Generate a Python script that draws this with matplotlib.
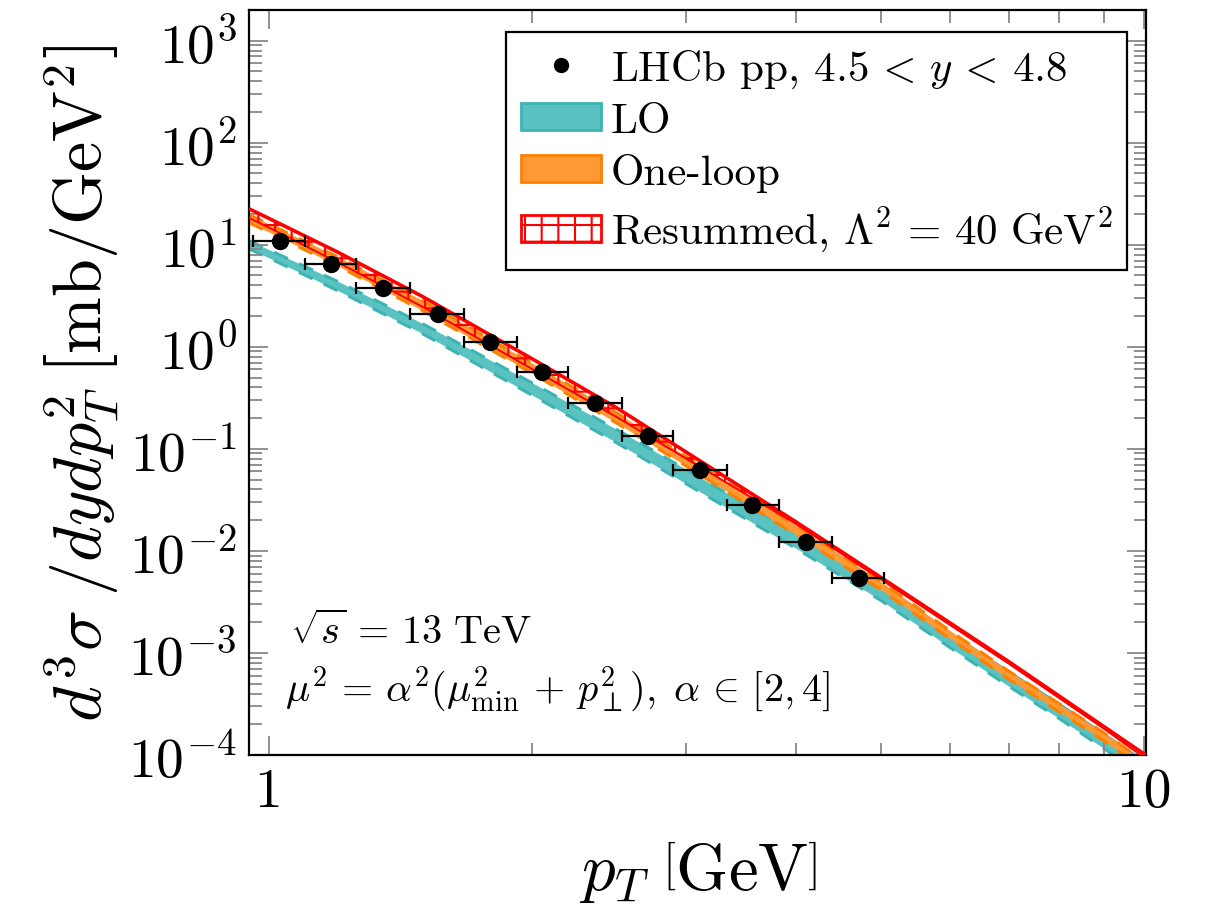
import matplotlib
matplotlib.use('Agg')
import matplotlib.pyplot as plt
from matplotlib.patches import Patch
from matplotlib.lines import Line2D
from matplotlib.ticker import FixedLocator, FixedFormatter, LogLocator, NullFormatter

plt.rcParams.update({
    'font.family': 'serif',
    'font.serif': ['cmr10'],
    'mathtext.fontset': 'cm',
    'axes.formatter.use_mathtext': True,
    'axes.unicode_minus': False,
    'hatch.linewidth': 1.5,
})

# ---- theory bands (pT grid in GeV, cross section in mb/GeV^2) ----
pt_grid = [0.95, 1.0, 1.2, 1.5, 2.0, 2.5, 3.0, 4.0, 5.0, 6.0, 7.0, 8.0, 9.0, 10.0]

lo_low = [9.12, 7.43, 3.54, 1.34, 0.335, 0.114, 0.0453, 0.0106,
          3.28e-3, 1.13e-3, 4.72e-4, 2.27e-4, 1.15e-4, 6.2e-5]
lo_high = [10.96, 8.94, 4.36, 1.68, 0.442, 0.154, 0.0625, 0.0150,
           4.54e-3, 1.56e-3, 6.52e-4, 3.14e-4, 1.59e-4, 8.6e-5]

loop_low = [16.4, 13.3, 6.18, 2.25, 0.547, 0.178, 0.0675, 0.0144,
            4.17e-3, 1.38e-3, 5.54e-4, 2.64e-4, 1.37e-4, 7.2e-5]
loop_high = [19.7, 16.0, 7.60, 2.83, 0.689, 0.224, 0.0840, 0.0178,
             5.01e-3, 1.65e-3, 6.65e-4, 3.17e-4, 1.64e-4, 8.66e-5]

res_low = [18.3, 14.8, 6.71, 2.46, 0.605, 0.204, 0.0800, 0.0184,
           5.27e-3, 1.88e-3, 7.87e-4, 3.60e-4, 1.80e-4, 9.4e-5]
res_high = [22.5, 18.2, 8.45, 3.10, 0.762, 0.251, 0.0927, 0.0193,
            5.52e-3, 1.97e-3, 8.24e-4, 3.77e-4, 1.89e-4, 1.02e-4]

# ---- LHCb data ----
pt_data = [1.03, 1.18, 1.35, 1.56, 1.79, 2.05, 2.36, 2.71, 3.11, 3.57, 4.11, 4.72]
pt_bin_lo = [0.96, 1.10, 1.26, 1.45, 1.67, 1.92, 2.20, 2.53, 2.90, 3.34, 3.83, 4.40]
pt_bin_hi = [1.10, 1.26, 1.45, 1.67, 1.92, 2.20, 2.53, 2.90, 3.34, 3.83, 4.40, 5.05]
sigma_data = [10.9, 6.51, 3.73, 2.08, 1.11, 0.569, 0.283, 0.135,
              0.0622, 0.0284, 0.01225, 0.0054]

x_ticks = [1, 10]
x_tick_labels = ['1', '10']

fig = plt.figure(figsize=(12.28, 9.12), dpi=100)
ax = fig.add_axes([0.2028, 0.1711, 0.7305, 0.8169])
ax.set_xscale('log')
ax.set_yscale('log')

# LO band
ax.fill_between(pt_grid, lo_low, lo_high, facecolor='#5BC2C2',
                edgecolor='none', linewidth=0, zorder=1)
for edge in (lo_low, lo_high):
    ax.plot(pt_grid, edge, color='#3DB3B3', lw=2.2, ls=(0, (5, 4)), zorder=1.1)

# One-loop band
ax.fill_between(pt_grid, loop_low, loop_high, facecolor='#FF9933',
                edgecolor='none', linewidth=0, zorder=2)
for edge in (loop_low, loop_high):
    ax.plot(pt_grid, edge, color='#FF8000', lw=2.2, ls=(0, (5, 4)), zorder=2.1)

# Resummed band (hatched)
ax.fill_between(pt_grid, res_low, res_high, facecolor='none',
                edgecolor='red', hatch='+', linewidth=0, zorder=3)
ax.plot(pt_grid, res_high, color='red', lw=2.6, zorder=3.1)
ax.plot(pt_grid, res_low, color='red', lw=1.4, zorder=3.1)

# data points
xerr = [[c - lo for c, lo in zip(pt_data, pt_bin_lo)],
        [hi - c for c, hi in zip(pt_data, pt_bin_hi)]]
ax.errorbar(pt_data, sigma_data, xerr=xerr, fmt='o', color='black',
            ms=11.5, elinewidth=1.6, capsize=4.5, capthick=1.6, zorder=5)

ax.set_xlim(0.95, 10.05)
ax.set_ylim(1e-4, 2e3)

ax.xaxis.set_major_locator(FixedLocator(x_ticks))
ax.xaxis.set_major_formatter(FixedFormatter(x_tick_labels))
ax.xaxis.set_minor_locator(FixedLocator([2, 3, 4, 5, 6, 7, 8, 9]))
ax.xaxis.set_minor_formatter(NullFormatter())
ax.yaxis.set_major_locator(LogLocator(base=10, numticks=20))
ax.yaxis.set_minor_locator(LogLocator(base=10, subs=range(2, 10), numticks=20))
ax.yaxis.set_minor_formatter(NullFormatter())

ax.tick_params(which='both', direction='in', top=True, right=True,
               color='#888888', width=1.3)
ax.tick_params(which='major', length=14, labelsize=40, pad=9)
ax.tick_params(which='minor', length=9)
for sp in ax.spines.values():
    sp.set_linewidth(1.6)
    sp.set_color('black')

ax.set_xlabel(r'$p_T\;\left[\mathrm{GeV}\right]$', fontsize=48)
ax.set_ylabel(r'$d^3\sigma\;/dydp_T^2\;\left[\mathrm{mb}/\mathrm{GeV}^2\right]$', fontsize=49)
ax.xaxis.set_label_coords(0.5, -0.112)
ax.yaxis.set_label_coords(-0.142, 0.5)

handles = [
    Line2D([], [], marker='o', color='black', ls='none', ms=10),
    Patch(facecolor='#5BC2C2', edgecolor='#3DB3B3', linewidth=2),
    Patch(facecolor='#FF9933', edgecolor='#FF8000', linewidth=2),
    Patch(facecolor='white', edgecolor='red', hatch='+', linewidth=2),
]
labels = [r'LHCb pp, $4.5\,<\,y\,<\,4.8$', 'LO', 'One-loop',
          r'Resummed, $\Lambda^2\,=\,40\ \mathrm{GeV}^2$']
leg = ax.legend(handles, labels, loc='upper right', bbox_to_anchor=(0.979, 0.970),
                borderaxespad=0, fontsize=31, frameon=True, fancybox=False,
                framealpha=1, edgecolor='black', handlelength=1.85,
                handleheight=0.58, handletextpad=0.22, labelspacing=0.3,
                borderpad=0.35)
leg.get_frame().set_linewidth(1.6)

ax.text(0.046, 0.166, r'$\sqrt{s}\,=\,13\ \mathrm{TeV}$', transform=ax.transAxes,
        fontsize=29, va='center', ha='left')
ax.text(0.040, 0.088,
        r'$\mu^2\,=\,\alpha^2(\mu^2_{\mathrm{min}}\,+\,p^2_{\perp}),\; \alpha\,\in\,[2,4]$',
        transform=ax.transAxes, fontsize=29, va='center', ha='left')

fig.savefig('out.png', dpi=100)
